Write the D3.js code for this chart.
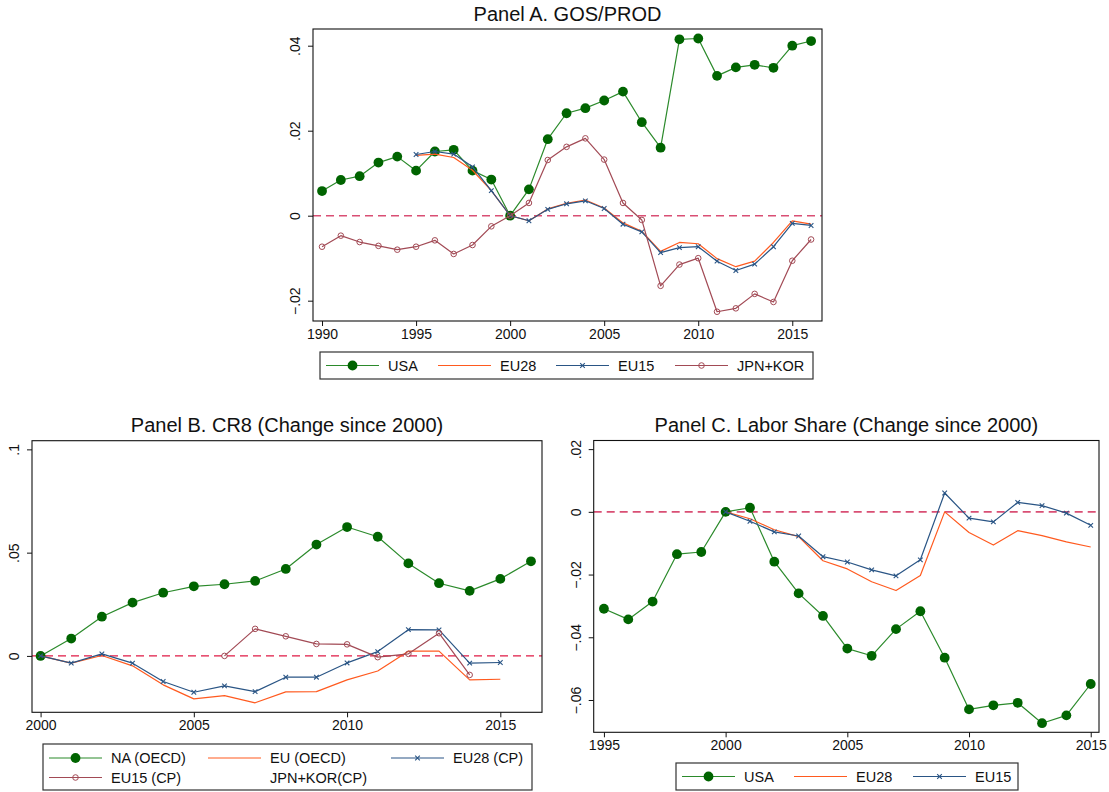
<!DOCTYPE html>
<html>

<head>
  <meta charset="utf-8">
  <title>GOS, CR8 and Labor Share</title>
  <script type="text/javascript" src="https://cdn.jsdelivr.net/npm/d3@7"></script>
  <style>
    body {
      margin: 0;
      background: #fff;
      font-family: "Liberation Sans", Arial, sans-serif;
    }
  </style>
</head>

<body>

  <script type="text/javascript">
    // ---- data ----
    // Panel A. GOS/PROD
    var yearsA = [1990, 1991, 1992, 1993, 1994, 1995, 1996, 1997, 1998, 1999, 2000, 2001, 2002, 2003,
      2004, 2005, 2006, 2007, 2008, 2009, 2010, 2011, 2012, 2013, 2014, 2015, 2016];
    var usaA = [0.0058, 0.0084, 0.0093, 0.0125, 0.0139, 0.0106, 0.0151, 0.0155, 0.0106, 0.0085, 0,
      0.0062, 0.018, 0.0241, 0.0253, 0.0271, 0.0292, 0.022, 0.016, 0.0415, 0.0417, 0.0329, 0.0349,
      0.0355, 0.0348, 0.04, 0.0411];
    var eu28A = [null, null, null, null, null, 0.0142, 0.0145, 0.0137, 0.0107, 0.0059, 0, -0.0012,
      0.0016, 0.0029, 0.0037, 0.0018, -0.0017, -0.0037, -0.0084, -0.0063, -0.0066, -0.0101, -0.012,
      -0.0107, -0.0063, -0.0012, -0.002];
    var eu15A = [null, null, null, null, null, 0.0144, 0.0151, 0.0145, 0.0115, 0.0059, 0, -0.0012,
      0.0015, 0.0028, 0.0035, 0.0017, -0.002, -0.0038, -0.0087, -0.0075, -0.0073, -0.0107, -0.0129,
      -0.0114, -0.0073, -0.0018, -0.0023];
    var jpnKorA = [-0.0073, -0.0047, -0.0062, -0.0071, -0.008, -0.0073, -0.0058, -0.009, -0.0069,
      -0.0025, 0, 0.003, 0.0131, 0.0162, 0.0182, 0.0132, 0.003, -0.001, -0.0165, -0.0115, -0.01,
      -0.0226, -0.0218, -0.0184, -0.0203, -0.0106, -0.0056];
    var xTicksA = [1990, 1995, 2000, 2005, 2010, 2015];
    var yTicksA = [-0.02, 0, 0.02, 0.04];
    var yTickLabelsA = ["\u2212.02", "0", ".02", ".04"];

    // Panel B. CR8 (Change since 2000)
    var yearsB = [2000, 2001, 2002, 2003, 2004, 2005, 2006, 2007, 2008, 2009, 2010, 2011, 2012,
      2013, 2014, 2015, 2016];
    var naOecdB = [0, 0.0084, 0.019, 0.0258, 0.0306, 0.0337, 0.0347, 0.0363, 0.0421, 0.0539, 0.0624,
      0.0577, 0.0448, 0.0352, 0.0315, 0.0373, 0.0458];
    var euOecdB = [0, -0.0035, 0.0002, -0.0048, -0.014, -0.0208, -0.0192, -0.0227, -0.0174, -0.0173,
      -0.0116, -0.0073, 0.0023, 0.0023, -0.0116, -0.0113, null];
    var eu28CpB = [0, -0.0035, 0.001, -0.0035, -0.0124, -0.0176, -0.0145, -0.0173, -0.0103, -0.0103,
      -0.0034, 0.0021, 0.0127, 0.0126, -0.0035, -0.0032, null];
    var eu15CpB = [null, null, null, null, null, null, 0, 0.0131, 0.0095, 0.0058, 0.0056, -0.0006,
      0.001, 0.011, -0.0092, null, null];
    var jpnKorCpB = [null, null, null, null, null, null, null, null, null, null, null, null, null,
      null, null, null, null];
    var xTicksB = [2000, 2005, 2010, 2015];
    var yTicksB = [0, 0.05, 0.1];
    var yTickLabelsB = ["0", ".05", ".1"];

    // Panel C. Labor Share (Change since 2000)
    var yearsC = [1995, 1996, 1997, 1998, 1999, 2000, 2001, 2002, 2003, 2004, 2005, 2006, 2007,
      2008, 2009, 2010, 2011, 2012, 2013, 2014, 2015];
    var usaC = [-0.0309, -0.0343, -0.0286, -0.0135, -0.0128, 0, 0.0013, -0.0159, -0.026, -0.0332,
      -0.0436, -0.0459, -0.0374, -0.0317, -0.0465, -0.063, -0.0617, -0.0609, -0.0674, -0.0649, -0.0549];
    var eu28C = [null, null, null, null, null, 0, -0.0022, -0.0057, -0.0079, -0.0156, -0.0182,
      -0.0223, -0.0251, -0.0203, 0, -0.0066, -0.0106, -0.006, -0.0076, -0.0096, -0.0112];
    var eu15C = [null, null, null, null, null, 0, -0.003, -0.0064, -0.0077, -0.0143, -0.016,
      -0.0185, -0.0204, -0.0153, 0.006, -0.002, -0.0032, 0.003, 0.002, -0.0004, -0.0043];
    var xTicksC = [1995, 2000, 2005, 2010, 2015];
    var yTicksC = [-0.06, -0.04, -0.02, 0, 0.02];
    var yTickLabelsC = ["\u2212.06", "\u2212.04", "\u2212.02", "0", ".02"];

    // ---- styles ----
    var FONT = "'Liberation Sans', Arial, sans-serif";
    var styles = {
      green: { line: "#2b8a2b", marker: "dot", fill: "#006400" },
      orange: { line: "#ff5a1f", marker: "none" },
      navy: { line: "#2a5585", marker: "x", fill: "#2a5585" },
      maroon: { line: "#a24a55", marker: "ring", fill: "#a24a55" },
      blank: { line: "none", marker: "none" }
    };

    var svg = d3.select("body").append("svg")
      .attr("width", 1109)
      .attr("height", 792);

    svg.append("rect").attr("width", 1109).attr("height", 792).attr("fill", "#fff");

    function drawMarker(g, type, fill, x, y) {
      if (type == "dot") {
        g.append("circle").attr("cx", x).attr("cy", y).attr("r", 4.9)
          .attr("fill", fill);
      } else if (type == "x") {
        var s = 2.3;
        g.append("path")
          .attr("d", "M" + (x - s) + "," + (y - s) + "L" + (x + s) + "," + (y + s) +
            "M" + (x - s) + "," + (y + s) + "L" + (x + s) + "," + (y - s))
          .attr("stroke", fill).attr("stroke-width", 1.1);
      } else if (type == "ring") {
        g.append("circle").attr("cx", x).attr("cy", y).attr("r", 2.8)
          .attr("fill", "none").attr("stroke", fill).attr("stroke-width", 1);
      }
    }

    function drawPanel(p) {
      var g = svg.append("g");

      var x = d3.scaleLinear().domain(p.xDomain).range([p.left, p.right]);
      var y = d3.scaleLinear().domain(p.yDomain).range([p.bottom, p.top]);

      // title
      g.append("text")
        .attr("x", (p.left + p.right) / 2).attr("y", p.titleY)
        .attr("text-anchor", "middle")
        .attr("font-family", FONT).attr("font-size", 20).attr("fill", "#111")
        .text(p.title);

      // zero line
      g.append("line")
        .attr("x1", p.left).attr("x2", p.right)
        .attr("y1", y(0)).attr("y2", y(0))
        .attr("stroke", p.zeroColor).attr("stroke-width", p.zeroWidth)
        .attr("stroke-dasharray", "8,5");

      // series
      p.series.forEach(function(s) {
        var st = styles[s.style];
        var pts = p.years.map(function(yr, i) { return [yr, s.values[i]]; });
        if (st.line != "none") {
          var line = d3.line()
            .defined(function(d) { return d[1] != null; })
            .x(function(d) { return x(d[0]); })
            .y(function(d) { return y(d[1]); });
          g.append("path").datum(pts)
            .attr("d", line)
            .attr("fill", "none")
            .attr("stroke", st.line)
            .attr("stroke-width", 1.2)
            .attr("stroke-linejoin", "round");
        }
        pts.forEach(function(d) {
          if (d[1] != null) drawMarker(g, st.marker, st.fill, x(d[0]), y(d[1]));
        });
      });

      // frame
      g.append("rect")
        .attr("x", p.left).attr("y", p.top)
        .attr("width", p.right - p.left).attr("height", p.bottom - p.top)
        .attr("fill", "none").attr("stroke", "#111").attr("stroke-width", 1.1);

      // x axis
      var xAxis = d3.axisBottom(x).tickValues(p.xTicks).tickSize(5).tickFormat(d3.format("d"));
      var xg = g.append("g").attr("transform", "translate(0," + p.bottom + ")").call(xAxis);
      xg.attr("font-family", FONT).attr("font-size", 14);
      xg.select(".domain").remove();
      xg.selectAll(".tick line").attr("stroke", "#111");
      xg.selectAll(".tick text").attr("fill", "#111")
        .attr("y", 8).attr("dy", "0.71em");

      // y axis, labels turned upright
      var yAxis = d3.axisLeft(y).tickValues(p.yTicks).tickSize(5)
        .tickFormat(function(d, i) { return p.yTickLabels[i]; });
      var yg = g.append("g").attr("transform", "translate(" + p.left + ",0)").call(yAxis);
      yg.attr("font-family", FONT).attr("font-size", 14);
      yg.select(".domain").remove();
      yg.selectAll(".tick line").attr("stroke", "#111");
      yg.selectAll(".tick text").attr("fill", "#111")
        .attr("x", null).attr("dy", null)
        .attr("text-anchor", "middle")
        .attr("transform", "translate(-13,0) rotate(-90)");

      // legend
      var lg = g.append("g");
      lg.append("rect")
        .attr("x", p.legend.x).attr("y", p.legend.y)
        .attr("width", p.legend.w).attr("height", p.legend.h)
        .attr("fill", "#fff").attr("stroke", "#333").attr("stroke-width", 1.2);
      p.series.forEach(function(s, i) {
        var pos = p.legend.items[i];
        var st = styles[s.style];
        if (st.line != "none") {
          lg.append("line")
            .attr("x1", pos[0]).attr("x2", pos[0] + 53)
            .attr("y1", pos[1]).attr("y2", pos[1])
            .attr("stroke", st.line).attr("stroke-width", 1.2);
          drawMarker(lg, st.marker, st.fill, pos[0] + 26.5, pos[1]);
        }
        lg.append("text")
          .attr("x", pos[0] + 62).attr("y", pos[1] + 5)
          .attr("font-family", FONT).attr("font-size", 14.5).attr("fill", "#111")
          .text(s.name);
      });
    }

    drawPanel({
      title: "Panel A. GOS/PROD",
      titleY: 21,
      left: 313, right: 822, top: 29, bottom: 321,
      xDomain: [1989.52, 2016.58],
      yDomain: [-0.02478, 0.04393],
      xTicks: xTicksA, yTicks: yTicksA, yTickLabels: yTickLabelsA,
      zeroColor: "#d94f74", zeroWidth: 1.6,
      years: yearsA,
      series: [
        { name: "USA", values: usaA, style: "green" },
        { name: "EU28", values: eu28A, style: "orange" },
        { name: "EU15", values: eu15A, style: "navy" },
        { name: "JPN+KOR", values: jpnKorA, style: "maroon" }
      ],
      legend: {
        x: 320, y: 352, w: 493, h: 27,
        items: [[326, 365.5], [438, 365.5], [556, 365.5], [675, 365.5]]
      }
    });

    drawPanel({
      title: "Panel B. CR8 (Change since 2000)",
      titleY: 432,
      left: 32, right: 542, top: 440.7, bottom: 712.3,
      xDomain: [1999.72, 2016.36],
      yDomain: [-0.0273, 0.1042],
      xTicks: xTicksB, yTicks: yTicksB, yTickLabels: yTickLabelsB,
      zeroColor: "#e01a45", zeroWidth: 1.3,
      years: yearsB,
      series: [
        { name: "NA (OECD)", values: naOecdB, style: "green" },
        { name: "EU (OECD)", values: euOecdB, style: "orange" },
        { name: "EU28 (CP)", values: eu28CpB, style: "navy" },
        { name: "EU15 (CP)", values: eu15CpB, style: "maroon" },
        { name: "JPN+KOR(CP)", values: jpnKorCpB, style: "blank" }
      ],
      legend: {
        x: 43, y: 744, w: 489, h: 46,
        items: [[49, 758], [208, 758], [391, 758], [49, 777.5], [208, 777.5]]
      }
    });

    drawPanel({
      title: "Panel C. Labor Share (Change since 2000)",
      titleY: 432,
      left: 593.7, right: 1099, top: 440.5, bottom: 732.3,
      xDomain: [1994.58, 2015.34],
      yDomain: [-0.0703, 0.02275],
      xTicks: xTicksC, yTicks: yTicksC, yTickLabels: yTickLabelsC,
      zeroColor: "#d94f74", zeroWidth: 1.6,
      years: yearsC,
      series: [
        { name: "USA", values: usaC, style: "green" },
        { name: "EU28", values: eu28C, style: "orange" },
        { name: "EU15", values: eu15C, style: "navy" }
      ],
      legend: {
        x: 676, y: 763, w: 342, h: 27,
        items: [[682, 776.5], [794, 776.5], [913, 776.5]]
      }
    });
  </script>

</body>

</html>
